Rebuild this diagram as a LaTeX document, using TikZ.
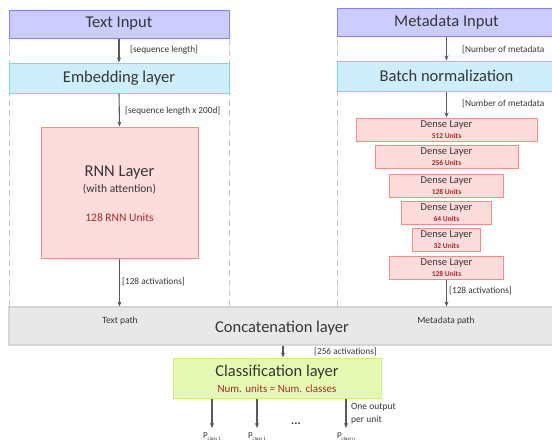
\documentclass[tikz,border=0pt]{standalone}
\usepackage{fontspec}
\setmainfont{Carlito}
\usetikzlibrary{arrows.meta}
\definecolor{txt}{HTML}{363636}
\definecolor{darkred}{HTML}{A52A2A}
\definecolor{arr}{HTML}{595959}
\tikzset{
  box/.style={draw, line width=1pt, inner sep=0pt, text=txt, align=center},
  inbox/.style={box, fill={rgb,255:red,204;green,204;blue,255}, draw={rgb,255:red,130;green,130;blue,255}},
  embbox/.style={box, fill={rgb,255:red,205;green,238;blue,250}, draw={rgb,255:red,120;green,215;blue,245}},
  redbox/.style={box, fill={rgb,255:red,253;green,220;blue,220}, draw={rgb,255:red,245;green,140;blue,135}},
  catbox/.style={box, fill={rgb,255:red,232;green,232;blue,232}, draw={rgb,255:red,212;green,212;blue,212}, line width=1.2pt},
  clsbox/.style={box, fill={rgb,255:red,230;green,249;blue,178}, draw={rgb,255:red,210;green,240;blue,120}},
  big/.style={font=\fontsize{16.5}{18}\selectfont},
  lbl/.style={text=txt, font=\fontsize{9.3}{11}\selectfont, inner sep=0pt},
  flow/.style={draw=arr, line width=1.1pt, -{Stealth[length=5pt,width=4pt]}},
  guide/.style={draw={rgb,255:red,200;green,200;blue,200}, dashed, dash pattern=on 6pt off 4pt, line width=0.8pt},
}
\newcommand{\denselbl}[1]{{\fontsize{10.5}{11}\selectfont Dense Layer}\\[-1pt]{\fontsize{7.5}{8}\selectfont\bfseries\color{darkred}#1 Units}}
\newcommand{\pclass}[1]{{\fontsize{9}{9}\selectfont P\raisebox{-2pt}{\fontsize{5}{5}\selectfont class #1}}}
\begin{document}
\begin{tikzpicture}[x=1pt,y=-1pt]
\useasboundingbox (0,0) rectangle (552,445);
\clip (0,0) rectangle (552,445);
% guide lines
\draw[guide] (9.5,10) -- (9.5,307);
\draw[guide] (229,10) -- (229,307);
\draw[guide] (337,10) -- (337,307);
% text path
\node[inbox, big, minimum width=220pt, minimum height=28pt] (ti) at (119,24) {Text Input};
\node[embbox, big, minimum width=220pt, minimum height=30pt] (emb) at (119,78) {Embedding layer};
\node[redbox, minimum width=157pt, minimum height=131pt] (rnn) at (119.5,192.5) {};
\node[text=txt, big, inner sep=0pt] (rnnt) at (119.5,173) {RNN Layer};
\node[text=txt, font=\fontsize{11.5}{13}\selectfont, inner sep=0pt] (rnna) at (119.5,189.5) {(with attention)};
\node[text=darkred, font=\fontsize{11.5}{13}\selectfont, inner sep=0pt] (rnnu) at (119.5,218) {128 RNN Units};
% metadata path
\node[inbox, big, minimum width=219pt, minimum height=28pt] (mi) at (446.5,22) {Metadata Input};
\node[embbox, big, minimum width=219pt, minimum height=30pt] (bn) at (446.5,76) {Batch normalization};
\node[redbox, minimum width=181pt, minimum height=23pt] (d1) at (446.5,129.5) {\denselbl{512}};
\node[redbox, minimum width=143pt, minimum height=23pt] (d2) at (446.5,156.5) {\denselbl{256}};
\node[redbox, minimum width=114pt, minimum height=23pt] (d3) at (446.5,185.5) {\denselbl{128}};
\node[redbox, minimum width=90pt, minimum height=23pt] (d4) at (446.5,212.5) {\denselbl{64}};
\node[redbox, minimum width=68pt, minimum height=23pt] (d5) at (446.5,239.5) {\denselbl{32}};
\node[redbox, minimum width=114pt, minimum height=23pt] (d6) at (446.5,267.5) {\denselbl{128}};
% concatenation
\node[catbox, minimum width=548pt, minimum height=38pt] (cat) at (283,326) {};
\node[text=txt, big, inner sep=0pt] (catt) at (282,328) {Concatenation layer};
\node[lbl, font=\fontsize{9.5}{10}\selectfont] (tp) at (120,320.5) {Text path};
\node[lbl, font=\fontsize{9.5}{10}\selectfont] (mp) at (446,320.5) {Metadata path};
% classification
\node[clsbox, minimum width=208pt, minimum height=40pt] (cls) at (277,378) {};
\node[text=txt, big, inner sep=0pt] (clst) at (277,372) {Classification layer};
\node[text=darkred, font=\fontsize{11}{12}\selectfont, inner sep=0pt] (clsu) at (277,388.5) {Num. units = Num. classes};
% arrows
\draw[flow] (ti.south) -- (emb.north);
\draw[flow] (emb.south) -- (rnn.north);
\draw[flow] (rnn.south) -- (rnn.south |- cat.north);
\draw[flow] (mi.south) -- (bn.north);
\draw[flow] (bn.south) -- (d1.north);
\draw[flow] (d6.south) -- (d6.south |- cat.north);
\coordinate (ca) at (283,0);
\draw[flow] (ca |- cat.south) -- (ca |- cls.north);
\coordinate (o1) at (212,428);
\coordinate (o2) at (257,428);
\coordinate (o3) at (346,428);
\draw[flow] (o1 |- cls.south) -- (o1);
\draw[flow] (o2 |- cls.south) -- (o2);
\draw[flow] (o3 |- cls.south) -- (o3);
% labels
\node[lbl, anchor=west] (l1) at (130,50) {[sequence length]};
\node[lbl, anchor=west] (l2) at (125,111) {[sequence length x 200d]};
\node[lbl, anchor=west] (l3) at (122,282) {[128 activations]};
\node[lbl, anchor=west] (l4) at (462,50) {[Number of metadata};
\node[lbl, anchor=west] (l5) at (462,104) {[Number of metadata};
\node[lbl, anchor=west] (l6) at (449,291) {[128 activations]};
\node[lbl, anchor=west] (l7) at (314,352) {[256 activations]};
\node[lbl, anchor=north west, align=left, font=\fontsize{9.5}{13}\selectfont] (l8) at (351,403) {One output\\per unit};
\node[text=txt, inner sep=0pt] (p1) at (212,437) {\pclass{1}};
\node[text=txt, inner sep=0pt] (p2) at (257,437) {\pclass{1}};
\node[text=txt, inner sep=0pt] (p3) at (346,437) {\pclass{n}};
\node[text=txt, inner sep=0pt, font=\fontsize{12}{12}\selectfont\bfseries] (dots) at (296,424) {...};
\end{tikzpicture}
\end{document}
